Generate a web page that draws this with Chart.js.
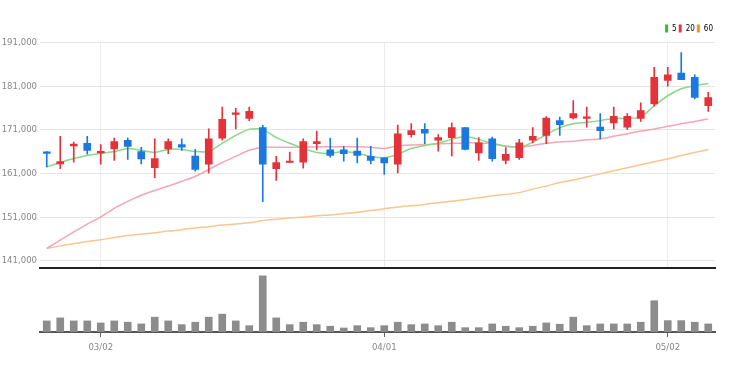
<!DOCTYPE html>
<html>
<head>
<meta charset="utf-8">
<script src="https://cdn.jsdelivr.net/npm/chart.js@4.4.1/dist/chart.umd.min.js"></script>
<style>
  body { margin: 0; background: #fff; }
  #wrap { position: relative; width: 730px; height: 373px; }
  #priceChart { position: absolute; left: 0; top: 0; }
  #volumeChart { position: absolute; left: 0; top: 270px; }
</style>
</head>
<body>
<div id="wrap">
  <canvas id="priceChart" width="730" height="270"></canvas>
  <canvas id="volumeChart" width="730" height="103"></canvas>
</div>
<script>
// trading days, feb 23 - may 6
const dates = [
  '02/23', '02/24', '02/25', '02/28',
  '03/02', '03/03', '03/04', '03/07', '03/08', '03/10', '03/11', '03/14', '03/15', '03/16', '03/17', '03/18',
  '03/21', '03/22', '03/23', '03/24', '03/25', '03/28', '03/29', '03/30', '03/31',
  '04/01', '04/04', '04/05', '04/06', '04/07', '04/08', '04/11', '04/12', '04/13', '04/14', '04/15',
  '04/18', '04/19', '04/20', '04/21', '04/22', '04/25', '04/26', '04/27', '04/28', '04/29',
  '05/02', '05/03', '05/04', '05/06'
];
const dateTicks = ['03/02', '04/01', '05/02'];
const priceTicks = [141000, 151000, 161000, 171000, 181000, 191000];

const opens = [
  165900, 163200, 167300, 167900, 165700, 166600, 168600, 166000, 162300, 166600,
  167600, 165000, 163100, 169100, 174500, 173600, 171500, 162100, 163500, 163600,
  167800, 166400, 166400, 166100, 164900, 164600, 163100, 169900, 171100, 168600,
  169200, 171500, 165700, 168900, 164000, 164600, 168600, 169700, 173100, 173700,
  173600, 171600, 172600, 171600, 173600, 176900, 182300, 184000, 183000, 176500
];
const closes = [
  165600, 163700, 167700, 166300, 166000, 168300, 167200, 164300, 164400, 168300,
  167000, 161900, 168900, 173400, 174900, 175200, 163100, 163500, 163800, 168300,
  168300, 165100, 165500, 165100, 164000, 163400, 170100, 170800, 170200, 169200,
  171500, 166500, 168000, 164400, 165400, 168000, 169500, 173700, 172200, 174700,
  173900, 170800, 174100, 174100, 175400, 183000, 183600, 182500, 178400, 178400
];
const highs = [
  166000, 169500, 168200, 169500, 167600, 169100, 169100, 167000, 168900, 168900,
  168900, 166500, 171200, 176200, 175900, 176200, 172000, 164900, 165900, 168900,
  170700, 169100, 167200, 169100, 167200, 164600, 172100, 172400, 172400, 169900,
  172600, 171500, 169200, 169300, 166900, 168800, 171500, 174000, 173900, 177700,
  176200, 174700, 176200, 174700, 177200, 185300, 185300, 188700, 183600, 179600
];
const lows = [
  162500, 162100, 163600, 165400, 163100, 164000, 164200, 163200, 160000, 165500,
  166300, 161500, 161100, 168600, 171200, 173100, 154500, 159400, 163500, 162200,
  166400, 164700, 163800, 163400, 163200, 160800, 161100, 169300, 167800, 166100,
  165000, 166400, 164000, 163800, 163200, 164200, 168000, 167800, 169700, 173500,
  171600, 168900, 171200, 171100, 172900, 176400, 181000, 182500, 178100, 175200
];
const ma5 = [
  162500, 163500, 164400, 165100, 165600, 166000, 166700, 166300, 165800, 166500,
  166500, 166000, 166000, 167900, 169700, 171100, 171100, 169200, 167900, 166700,
  165800, 165600, 166000, 165600, 164900, 164600, 165400, 166700, 167400, 167900,
  168800, 169500, 168800, 167900, 167200, 167000, 168100, 169900, 171500, 172400,
  172700, 173100, 173600, 173600, 173900, 176500, 178800, 180400, 181100, 181600
];
const ma20 = [
  143800, 145700, 147600, 149400, 151000, 153000, 154600, 156000, 157100, 158100,
  159200, 160300, 161900, 163500, 164900, 166300, 167000, 167000, 167000, 167000,
  167100, 167100, 167100, 167100, 167000, 166700, 167300, 167500, 167600, 167800,
  167900, 168000, 168000, 167800, 167300, 167000, 167400, 167900, 168200, 168400,
  168700, 168900, 169500, 170100, 170700, 171200, 171800, 172400, 172900, 173500
];
const ma60 = [
  143800, 144400, 144900, 145400, 145800, 146300, 146800, 147100, 147400, 147800,
  148100, 148500, 148800, 149200, 149400, 149700, 150200, 150500, 150800, 151000,
  151300, 151500, 151800, 152100, 152500, 152900, 153300, 153600, 153900, 154300,
  154600, 155000, 155400, 155900, 156200, 156600, 157400, 158100, 158900, 159500,
  160200, 160900, 161600, 162300, 163000, 163700, 164300, 165100, 165800, 166500
];
// volume, thousand shares
const volumes = [
  110, 140, 110, 110, 90, 110, 97, 80, 147, 110,
  73, 97, 147, 177, 110, 63, 557, 140, 73, 97,
  73, 57, 40, 63, 43, 63, 97, 73, 80, 63,
  97, 43, 43, 80, 57, 43, 57, 90, 77, 147,
  63, 80, 80, 80, 97, 310, 113, 113, 97, 80
];

const upColor = '#e5323a';
const downColor = '#1b78e0';
const candleColors = opens.map((o, i) => closes[i] >= o ? upColor : downColor);
const fontFamily = "'Liberation Sans Narrow', 'DejaVu Sans Condensed', 'Liberation Sans', sans-serif";
const tickFont = { family: fontFamily, size: 9.5 };

const maColors = ['#2fbf2f', '#ee3344', '#f7941d'];

new Chart('priceChart', {
  type: 'bar',
  data: {
    labels: dates,
    datasets: [
      {
        label: 'wick',
        data: lows.map((l, i) => [l, highs[i]]),
        backgroundColor: candleColors,
        barThickness: 1,
        grouped: false,
        order: 1
      },
      {
        label: 'body',
        data: opens.map((o, i) => [o, closes[i]]),
        backgroundColor: candleColors,
        barThickness: 7,
        minBarLength: 1.5,
        grouped: false,
        order: 0
      },
      {
        type: 'line', label: '5', data: ma5,
        borderColor: '#88d888', borderWidth: 1.5, pointRadius: 0, tension: 0.2, order: 2
      },
      {
        type: 'line', label: '20', data: ma20,
        borderColor: '#f5a5b5', borderWidth: 1.5, pointRadius: 0, tension: 0.2, order: 3
      },
      {
        type: 'line', label: '60', data: ma60,
        borderColor: '#f8c690', borderWidth: 1.5, pointRadius: 0, tension: 0.2, order: 4
      }
    ]
  },
  options: {
    responsive: false,
    animation: false,
    layout: { padding: { left: 0, right: 15, top: 22.5, bottom: 2 } },
    plugins: {
      tooltip: { enabled: false },
      legend: {
        position: 'top',
        align: 'end',
        labels: {
          boxWidth: 3,
          boxHeight: 8,
          padding: 2,
          color: '#888',
          font: { family: fontFamily, size: 8 },
          generateLabels: chart => [2, 3, 4].map((di, k) => ({
            text: chart.data.datasets[di].label,
            fillStyle: maColors[k],
            strokeStyle: maColors[k],
            lineWidth: 0,
            datasetIndex: di
          }))
        }
      }
    },
    scales: {
      x: {
        offset: true,
        grid: {
          offset: false,
          drawTicks: false,
          color: c => (c.tick && dateTicks.includes(dates[c.tick.value])) ? '#ebebeb' : 'rgba(0,0,0,0)'
        },
        ticks: { display: false, autoSkip: false },
        border: { display: true, color: '#222', width: 2 },
        afterFit: s => { s.height = 0; }
      },
      y: {
        min: 139330,
        max: 191000,
        afterBuildTicks: s => { s.ticks = priceTicks.map(v => ({ value: v })); },
        afterFit: s => { s.width = 40; s.paddingBottom = 0; },
        grid: { color: '#e6e6e6', drawTicks: false },
        border: { display: false },
        ticks: {
          padding: 3,
          color: '#888',
          font: tickFont,
          callback: v => v.toLocaleString('en-US')
        }
      }
    }
  }
});

new Chart('volumeChart', {
  type: 'bar',
  data: {
    labels: dates,
    datasets: [{
      label: 'volume',
      data: volumes,
      backgroundColor: '#8c8c8c',
      barThickness: 7
    }]
  },
  options: {
    responsive: false,
    animation: false,
    layout: { padding: { left: 40, right: 15, top: 0, bottom: 0 } },
    plugins: { legend: { display: false }, tooltip: { enabled: false } },
    scales: {
      x: {
        offset: true,
        grid: {
          offset: false,
          drawOnChartArea: false,
          drawTicks: true,
          tickLength: 5,
          color: c => (c.tick && dateTicks.includes(dates[c.tick.value])) ? '#666' : 'rgba(0,0,0,0)'
        },
        border: { display: true, color: '#555', width: 2 },
        ticks: {
          autoSkip: false,
          maxRotation: 0,
          padding: 5,
          color: '#888',
          font: tickFont,
          callback: (v, i) => dateTicks.includes(dates[i]) ? dates[i] : ''
        },
        afterFit: s => { s.height = 41; }
      },
      y: { display: false, min: 0, max: 615 }
    }
  }
});
</script>
</body>
</html>
